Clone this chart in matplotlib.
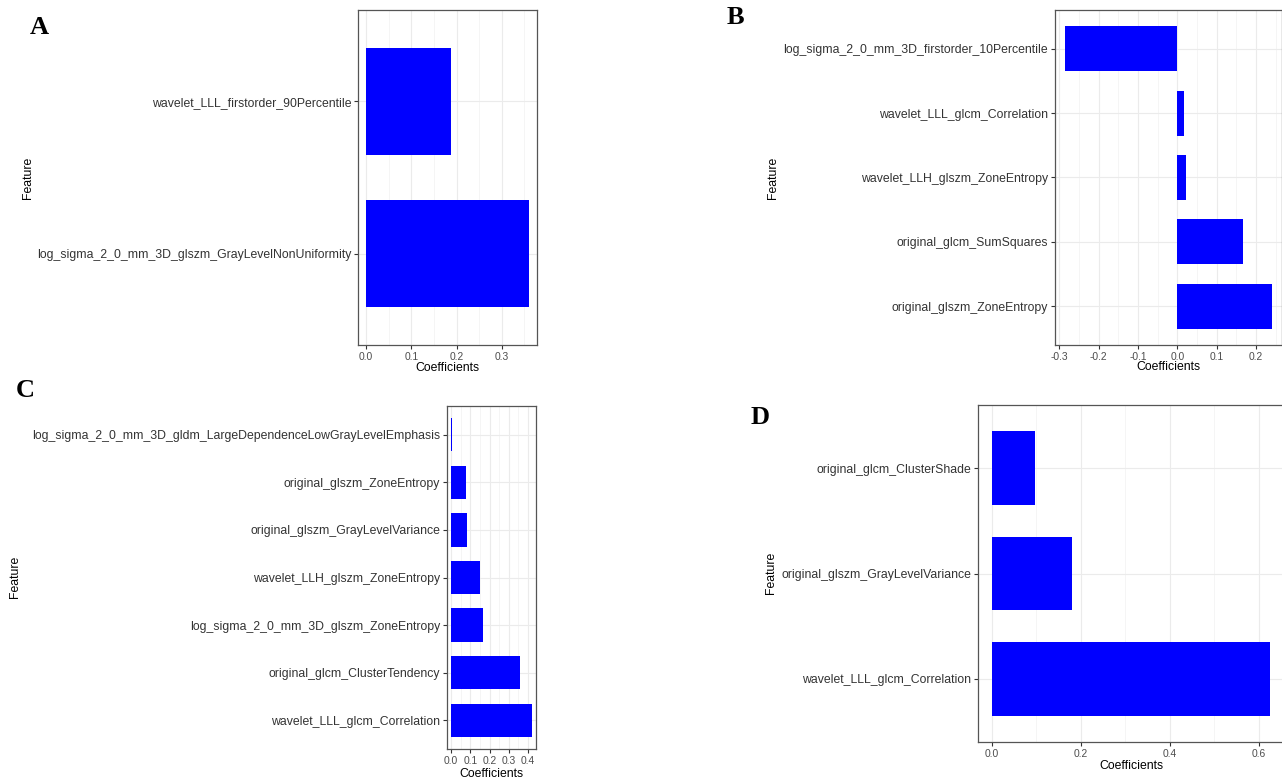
import matplotlib
matplotlib.use("Agg")
import matplotlib.pyplot as plt
from matplotlib.ticker import MultipleLocator, FixedLocator

plt.rcParams['font.family'] = ['Liberation Sans', 'DejaVu Sans']

W, H = 1282, 781

# Panel A (bottom to top)
a_features = ["log_sigma_2_0_mm_3D_glszm_GrayLevelNonUniformity",
              "wavelet_LLL_firstorder_90Percentile"]
a_values = [0.36, 0.187]
a_ticks = [0.0, 0.1, 0.2, 0.3]

# Panel B (bottom to top)
b_features = ["original_glszm_ZoneEntropy",
              "original_glcm_SumSquares",
              "wavelet_LLH_glszm_ZoneEntropy",
              "wavelet_LLL_glcm_Correlation",
              "log_sigma_2_0_mm_3D_firstorder_10Percentile"]
b_values = [0.24, 0.168, 0.022, 0.018, -0.285]
b_ticks = [-0.3, -0.2, -0.1, 0.0, 0.1, 0.2]

# Panel C (bottom to top)
c_features = ["wavelet_LLL_glcm_Correlation",
              "original_glcm_ClusterTendency",
              "log_sigma_2_0_mm_3D_glszm_ZoneEntropy",
              "wavelet_LLH_glszm_ZoneEntropy",
              "original_glszm_GrayLevelVariance",
              "original_glszm_ZoneEntropy",
              "log_sigma_2_0_mm_3D_gldm_LargeDependenceLowGrayLevelEmphasis"]
c_values = [0.42, 0.36, 0.165, 0.152, 0.085, 0.078, 0.004]
c_ticks = [0.0, 0.1, 0.2, 0.3, 0.4]

# Panel D (bottom to top)
d_features = ["wavelet_LLL_glcm_Correlation",
              "original_glszm_GrayLevelVariance",
              "original_glcm_ClusterShade"]
d_values = [0.625, 0.18, 0.097]
d_ticks = [0.0, 0.2, 0.4, 0.6]

fig = plt.figure(figsize=(W / 100, H / 100), dpi=100)


def rect(left, top, right, bottom):
    return [left / W, 1 - bottom / H, (right - left) / W, (bottom - top) / H]


def panel(pos, features, values, ticks):
    ax = fig.add_axes(rect(*pos))
    n = len(features)
    y = list(range(n))
    ax.barh(y, values, height=0.7, color="#0000FF", edgecolor="none", zorder=3)
    lo = min(0, min(values))
    hi = max(0, max(values))
    pad = 0.05 * (hi - lo)
    ax.set_xlim(lo - pad, hi + pad)
    ax.set_ylim(-0.6, n - 0.4)
    ax.set_yticks(y)
    ax.set_yticklabels(features, fontsize=8.8, color="#333333")
    ax.xaxis.set_major_locator(FixedLocator(ticks))
    step = ticks[1] - ticks[0]
    ax.xaxis.set_minor_locator(MultipleLocator(step / 2))
    ax.set_xticklabels([f"{t:.1f}" for t in ticks], fontsize=7.4, color="#4D4D4D")
    ax.grid(which="major", axis="both", color="#EBEBEB", linewidth=0.8, zorder=0)
    ax.grid(which="minor", axis="x", color="#F2F2F2", linewidth=0.5, zorder=0)
    ax.tick_params(which="major", length=3, width=0.8, color="#333333", pad=2)
    ax.tick_params(which="minor", length=0)
    for s in ax.spines.values():
        s.set_color("#555555")
        s.set_linewidth(0.9)
    ax.set_axisbelow(True)
    return ax


panel((358, 10, 537, 345), a_features, a_values, a_ticks)
panel((1055, 10, 1282, 345), b_features, b_values, b_ticks)
panel((447, 406, 536, 749), c_features, c_values, c_ticks)
panel((978, 405, 1284, 742), d_features, d_values, d_ticks)


def ftext(x, y, s, **kw):
    fig.text(x / W, 1 - y / H, s, **kw)


# axis titles
for x, y in [(447, 368), (1168, 367), (491, 774), (1131, 766)]:
    ftext(x, y, "Coefficients", ha="center", va="center", fontsize=8.8, color="black")
for x, y in [(28, 178), (773, 178), (15, 577), (771, 573)]:
    ftext(x, y, "Feature", ha="center", va="center", rotation=90, fontsize=8.8, color="black")

# panel letters
for x, y, s in [(39, 28, "A"), (735, 18, "B"), (25, 390, "C"), (760, 418, "D")]:
    ftext(x, y, s, ha="center", va="center", fontsize=19, fontweight="bold",
          family="Liberation Serif", color="black")

fig.savefig("out.png", dpi=100)
